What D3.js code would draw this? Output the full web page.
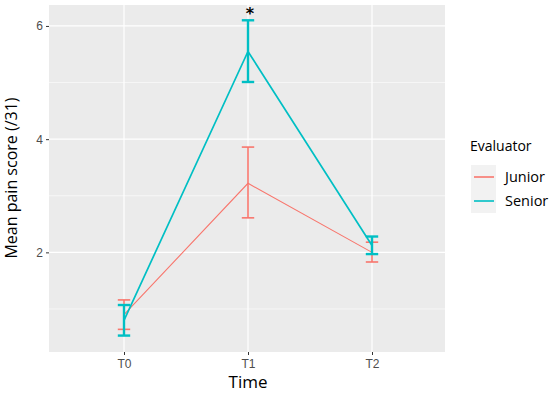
<!DOCTYPE html>
<html><head><meta charset="utf-8">
<script src="https://cdn.jsdelivr.net/npm/d3@7"></script>
<style>body{margin:0;background:#fff}svg{display:block}</style>
</head><body>
<svg id="c" width="550" height="394"></svg>
<script>
const categories = ["T0","T1","T2"];
const seriesNames = ["Junior","Senior"];
const juniorMean = [0.90, 3.22, 2.00];
const juniorLow  = [0.64, 2.61, 1.83];
const juniorHigh = [1.16, 3.86, 2.18];
const seniorMean = [0.80, 5.55, 2.12];
const seniorLow  = [0.53, 5.01, 1.97];
const seniorHigh = [1.07, 6.10, 2.28];
const yTicks = [2,4,6];
const yMinor = [1,3,5];
const colors = {Junior:"#F8766D", Senior:"#00BFC4"};
const widths = {Junior:1.1, Senior:1.7};

const series = [
  {name:"Junior", mean:juniorMean, low:juniorLow, high:juniorHigh},
  {name:"Senior", mean:seniorMean, low:seniorLow, high:seniorHigh}
];

const svg = d3.select("#c");
const L=49, R=445, T=5, B=352;
const x = d3.scalePoint().domain(categories).range([124,372]);
const y = d3.scaleLinear().domain([0.24,6.37]).range([B,T]);

svg.append("rect").attr("x",L).attr("y",T).attr("width",R-L).attr("height",B-T).attr("fill","#EBEBEB");
const g = svg.append("g");
g.selectAll(".ym").data(yMinor).join("line").attr("x1",L).attr("x2",R)
  .attr("y1",d=>y(d)).attr("y2",d=>y(d)).attr("stroke","#fff").attr("stroke-width",0.6);
g.selectAll(".yM").data(yTicks).join("line").attr("x1",L).attr("x2",R)
  .attr("y1",d=>y(d)).attr("y2",d=>y(d)).attr("stroke","#fff").attr("stroke-width",1.2);
g.selectAll(".xM").data(categories).join("line").attr("y1",T).attr("y2",B)
  .attr("x1",d=>x(d)).attr("x2",d=>x(d)).attr("stroke","#fff").attr("stroke-width",1.2);

// axes
const ya = svg.append("g").attr("transform",`translate(${L},0)`)
  .call(d3.axisLeft(y).tickValues(yTicks).tickFormat(d3.format("d")).tickSize(3).tickPadding(3));
const xa = svg.append("g").attr("transform",`translate(0,${B})`)
  .call(d3.axisBottom(x).tickSize(3).tickPadding(4));
[ya,xa].forEach(a=>{
  a.attr("font-family",null).attr("font-size",null);
  a.select(".domain").remove();
  a.selectAll(".tick line").attr("stroke","#333");
  a.selectAll("text").attr("fill","#4D4D4D").style("font-family","'Liberation Sans', Arial, sans-serif").style("font-size","12px");
});

// lines & errorbars
const capW = 12.4;
series.forEach(s=>{
  const line = d3.line().x((d,i)=>x(categories[i])).y(d=>y(d));
  svg.append("path").datum(s.mean).attr("d",line).attr("fill","none")
    .attr("stroke",colors[s.name]).attr("stroke-width",widths[s.name]);
  const eg = svg.append("g").attr("stroke",colors[s.name]).attr("stroke-width",s.name==="Senior"?2.4:1.6);
  categories.forEach((c,i)=>{
    eg.append("line").attr("x1",x(c)).attr("x2",x(c)).attr("y1",y(s.low[i])).attr("y2",y(s.high[i]));
    eg.append("line").attr("x1",x(c)-capW/2).attr("x2",x(c)+capW/2).attr("y1",y(s.low[i])).attr("y2",y(s.low[i]));
    eg.append("line").attr("x1",x(c)-capW/2).attr("x2",x(c)+capW/2).attr("y1",y(s.high[i])).attr("y2",y(s.high[i]));
  });
});

// significance star
svg.append("text").attr("x",x("T1")+2).attr("y",y(6.10)-1).attr("text-anchor","middle")
  .style("font-family","DejaVu Sans, sans-serif").style("font-size","16px").style("font-weight","bold").text("*");

// axis titles
const tf = "Open Sans, sans-serif";
svg.append("text").attr("x",248).attr("y",388).attr("text-anchor","middle")
  .style("font-family",tf).style("font-size","17px").attr("fill","#000").text("Time");
svg.append("text").attr("transform","translate(17,178) rotate(-90)").attr("text-anchor","middle")
  .style("font-family",tf).style("font-size","16px").attr("fill","#000").text("Mean pain score (/31)");

// legend
const lg = svg.append("g");
lg.append("text").attr("x",470).attr("y",151).style("font-family",tf).style("font-size","14px").text("Evaluator");
seriesNames.forEach((n,i)=>{
  const yy = 165 + i*24;
  lg.append("rect").attr("x",471).attr("y",yy).attr("width",25).attr("height",24).attr("fill","#F2F2F2");
  lg.append("line").attr("x1",474).attr("x2",494).attr("y1",yy+12).attr("y2",yy+12)
    .attr("stroke",colors[n]).attr("stroke-width",1.6);
  lg.append("text").attr("x",505).attr("y",yy+17).style("font-family",tf).style("font-size","14.5px").text(n);
});
</script>
</body></html>
